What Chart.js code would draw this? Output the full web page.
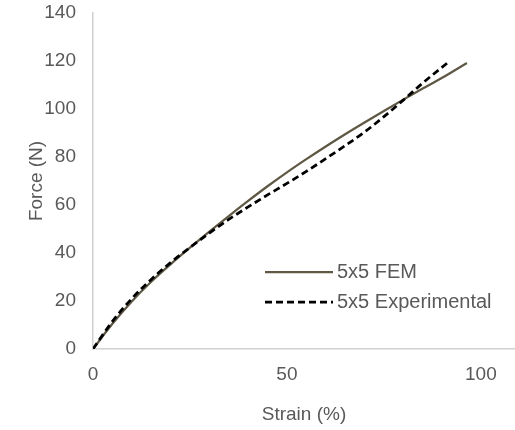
<!DOCTYPE html>
<html>
<head>
<meta charset="utf-8">
<script src="https://cdn.jsdelivr.net/npm/chart.js@4"></script>
<style>
  html, body { margin: 0; padding: 0; background: #fff; }
  #wrap { width: 515px; height: 430px; }
</style>
</head>
<body>
<div id="wrap"><canvas id="chart" width="515" height="430"></canvas></div>
<script>
// values
const femStrain = [0, 5, 10, 15, 20, 25, 30, 35, 40, 45, 50, 55, 60, 65, 70, 75, 80, 85, 90, 96.4];
const femForce = [0, 10.5, 19.8, 28, 35.3, 42.2, 48.9, 55.4, 61.7, 67.8, 73.6, 79.1, 84.4, 89.5, 94.4, 99.2, 103.9, 108.5, 113, 119.2];

const expStrain = [0, 5, 10, 15, 20, 25, 30, 35, 40, 45, 50, 55, 60, 65, 70, 75, 80, 85, 92];
const expForce = [0, 11.5, 21, 29, 36, 42.3, 48.3, 54, 59.2, 64.2, 69, 74, 79.3, 84.7, 90.4, 96.8, 103.7, 110.8, 120];

const yTicks = [0, 20, 40, 60, 80, 100, 120, 140];
const xTicks = [0, 50, 100];

const TEXT = "#595959";
const FONT = { family: "'Liberation Sans', Arial, sans-serif", size: 19 };

function toPoints(xs, ys) {
  return xs.map((x, i) => ({ x, y: ys[i] }));
}

// legend sits inside the plot area, like the original
const insideLegend = {
  id: "insideLegend",
  afterDraw(chart) {
    const { ctx, chartArea } = chart;
    const x0 = chartArea.left + 172;
    const rows = [
      { ds: chart.data.datasets[1], y: chartArea.top + 259 },
      { ds: chart.data.datasets[0], y: chartArea.top + 289 },
    ];
    ctx.save();
    ctx.font = `20px ${FONT.family}`;
    ctx.textBaseline = "middle";
    ctx.fillStyle = TEXT;
    rows.forEach((r) => {
      ctx.beginPath();
      ctx.strokeStyle = r.ds.borderColor;
      ctx.lineWidth = r.ds.borderWidth;
      ctx.setLineDash(r.ds.borderDash || []);
      ctx.moveTo(x0, r.y);
      ctx.lineTo(x0 + 68, r.y);
      ctx.stroke();
      ctx.setLineDash([]);
      ctx.fillText(r.ds.label, x0 + 72, r.y);
    });
    ctx.restore();
  },
};

new Chart(document.getElementById("chart"), {
  type: "line",
  data: {
    datasets: [
      {
        label: "5x5 Experimental",
        data: toPoints(expStrain, expForce),
        borderColor: "#000000",
        borderWidth: 2.75,
        borderDash: [7, 4],
        pointRadius: 0,
        cubicInterpolationMode: "monotone",
        order: 0,
      },
      {
        label: "5x5 FEM",
        data: toPoints(femStrain, femForce),
        borderColor: "#5e5845",
        borderWidth: 2.25,
        pointRadius: 0,
        cubicInterpolationMode: "monotone",
        order: 1,
      },
    ],
  },
  options: {
    responsive: false,
    animation: false,
    layout: { padding: 0 },
    plugins: { legend: { display: false }, tooltip: { enabled: false } },
    scales: {
      x: {
        type: "linear",
        min: 0,
        max: 108.8,
        grid: { display: false, drawTicks: false },
        border: { display: true, color: "#d0d0d0", width: 1.5 },
        afterBuildTicks: (s) => { s.ticks = xTicks.map((v) => ({ value: v })); },
        afterFit: (s) => { s.height = 81; s.paddingRight = 0; },
        ticks: { color: TEXT, font: FONT, padding: 14, maxRotation: 0 },
        title: { display: true, text: "Strain (%)", color: TEXT, font: FONT, padding: { top: 0, bottom: 4 } },
      },
      y: {
        min: 0,
        max: 140,
        grid: { display: false, drawTicks: false },
        border: { display: true, color: "#d0d0d0", width: 1.5 },
        afterBuildTicks: (s) => { s.ticks = yTicks.map((v) => ({ value: v })); },
        afterFit: (s) => { s.width = 93; s.paddingTop = 13; s.paddingBottom = 0; },
        ticks: { color: TEXT, font: FONT, padding: 17 },
        title: { display: true, text: "Force (N)", color: TEXT, font: FONT, padding: { top: 25, bottom: 0 } },
      },
    },
  },
  plugins: [insideLegend],
});
</script>
</body>
</html>
